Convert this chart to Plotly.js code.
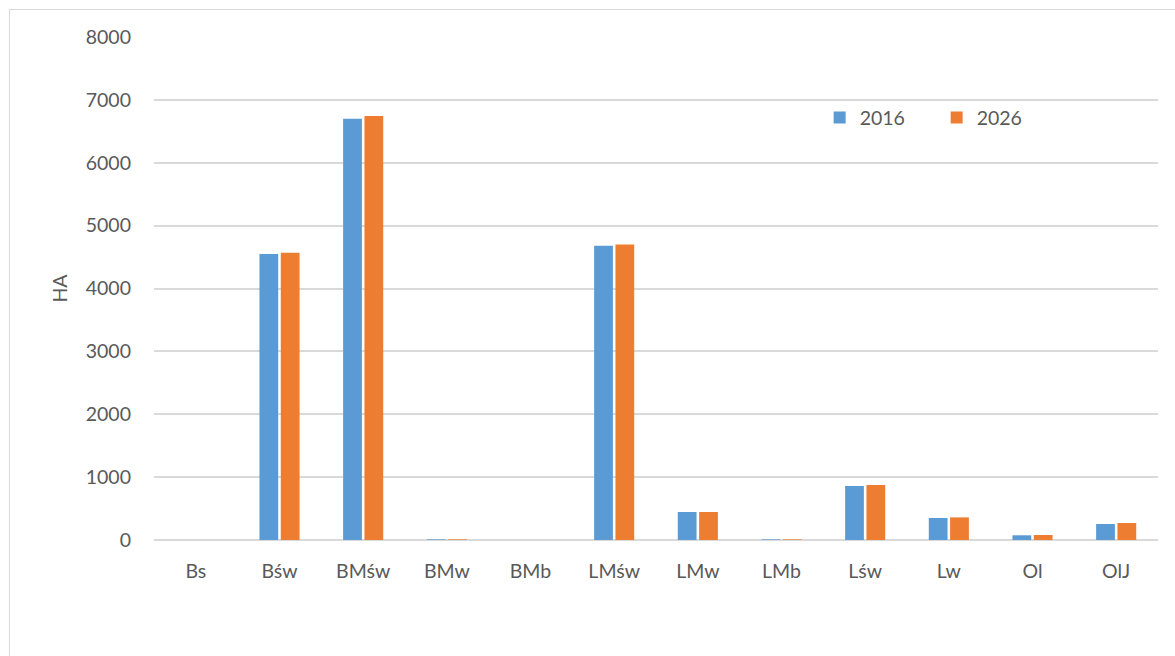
<!DOCTYPE html>
<html>
<head>
<meta charset="utf-8">
<script src="https://cdn.plot.ly/plotly-3.0.1.min.js"></script>
<style>
html,body{margin:0;padding:0;background:#fff;overflow:hidden;}
#frame{position:absolute;left:9px;top:9px;width:1200px;height:700px;border:1px solid #d9d9d9;box-sizing:border-box;}
#chart{position:absolute;left:0;top:0;width:1175px;height:656px;}
</style>
</head>
<body>
<div id="frame"></div>
<div id="chart"></div>
<script>
const categories = ["Bs","Bśw","BMśw","BMw","BMb","LMśw","LMw","LMb","Lśw","Lw","Ol","OlJ"];
const values2016 = [0, 4550, 6700, 10, 0, 4680, 445, 10, 860, 350, 75, 255];
const values2026 = [0, 4570, 6745, 10, 0, 4700, 445, 10, 875, 360, 80, 270];
const yTicks = [0,1000,2000,3000,4000,5000,6000,7000,8000];

const font = {family: "Lato, 'Open Sans', sans-serif", size: 19.5, color: "#595959"};
const traces = [
  {type:"bar", name:"2016", x:categories, y:values2016, marker:{color:"#5B9BD5"}},
  {type:"bar", name:"2026", x:categories, y:values2026, marker:{color:"#ED7D31"}}
];
const layout = {
  width:1175, height:656,
  margin:{l:154, r:17, t:37, b:116},
  paper_bgcolor:"rgba(0,0,0,0)", plot_bgcolor:"rgba(0,0,0,0)",
  font: font,
  barmode:"group", bargap:0.49, bargroupgap:0.12,
  showlegend:true,
  legend:{orientation:"h", x:0.663, y:0.878, xanchor:"left", yanchor:"top", font:font, entrywidth:72, bgcolor:"rgba(0,0,0,0)"},
  xaxis:{type:"category", showgrid:false, showline:false, zeroline:false, ticks:"", ticklabelstandoff:17, tickfont:font},
  yaxis:{range:[0,8000], tickvals:yTicks, showgrid:true, gridcolor:"#d9d9d9", gridwidth:2, zeroline:true, zerolinecolor:"#d9d9d9", zerolinewidth:2, showline:false, ticks:"", ticklabelstandoff:22, tickfont:font,
    title:{text:"HA", font:font, standoff:12}}
};
Plotly.newPlot("chart", traces, layout, {displayModeBar:false, staticPlot:true});
</script>
</body>
</html>
